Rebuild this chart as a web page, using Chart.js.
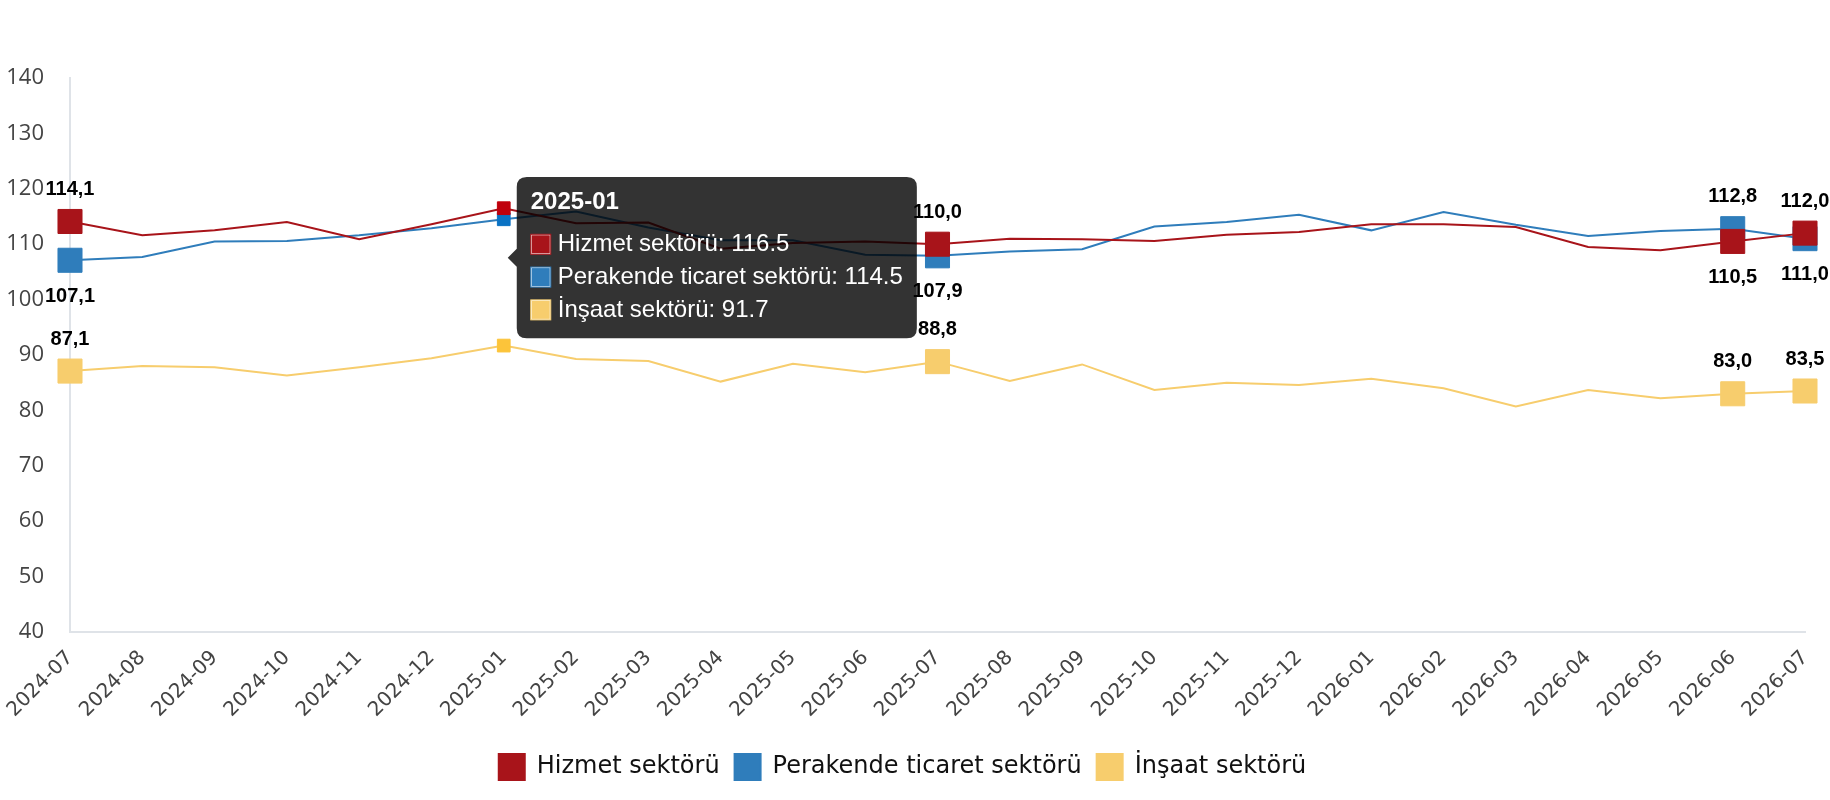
<!DOCTYPE html>
<html>
<head>
<meta charset="utf-8">
<script src="https://cdn.jsdelivr.net/npm/chart.js@4.4.1/dist/chart.umd.min.js"></script>
<style>
html,body{margin:0;padding:0;background:#fff;}
#wrap{width:1830px;height:800px;position:relative;}
</style>
</head>
<body>
<div id="wrap"><canvas id="c"></canvas></div>
<script>
const categories = ['2024-07','2024-08','2024-09','2024-10','2024-11','2024-12','2025-01','2025-02','2025-03','2025-04','2025-05','2025-06','2025-07','2025-08','2025-09','2025-10','2025-11','2025-12','2026-01','2026-02','2026-03','2026-04','2026-05','2026-06','2026-07'];
const hizmet    = [114.1,111.6,112.5,114.0,110.9,113.6,116.5,113.8,113.9,109.2,110.2,110.5,110.0,111.0,110.9,110.6,111.7,112.2,113.6,113.6,113.1,109.5,108.9,110.5,112.0];
const perakende = [107.1,107.7,110.5,110.6,111.6,112.9,114.5,115.9,113.0,110.7,110.7,108.1,107.9,108.7,109.1,113.2,114.0,115.3,112.5,115.8,113.5,111.5,112.4,112.8,111.0];
const insaat    = [87.1,88.0,87.8,86.3,87.8,89.4,91.7,89.3,88.9,85.2,88.4,86.9,88.8,85.3,88.3,83.7,85.0,84.6,85.7,84.0,80.7,83.7,82.2,83.0,83.5];
const seriesNames = ['Hizmet sektörü','Perakende ticaret sektörü','İnşaat sektörü'];
const yMin = 40, yMax = 140, yStep = 10;
const labelledIndices = [0,12,23,24];
const tooltipIndex = 6;

const colors = ['#a8141a','#2f7dbb','#f7cd6d'];
const hoverColors = ['#c0000c','#0a72c4','#fcc43a'];

const valueLabels = {
  id: 'valueLabels',
  afterDatasetsDraw(chart) {
    const ctx = chart.ctx;
    ctx.save();
    ctx.font = 'bold 20px "Liberation Sans", Arial, sans-serif';
    ctx.fillStyle = '#000';
    ctx.textAlign = 'center';
    ctx.textBaseline = 'middle';
    const ds = chart.data.datasets;
    labelledIndices.forEach(i => {
      ds.forEach((d, di) => {
        const pt = chart.getDatasetMeta(di).data[i];
        const v = d.data[i];
        let above = true;
        if (di < 2) above = v >= ds[1 - di].data[i];
        const y = above ? pt.y - 32 : pt.y + 36;
        ctx.fillText(v.toFixed(1).replace('.', ','), pt.x, y);
      });
    });
    ctx.restore();
  }
};

function makeDataset(idx, data) {
  return {
    label: seriesNames[idx],
    data: data,
    borderColor: colors[idx],
    backgroundColor: colors[idx],
    borderWidth: 2,
    tension: 0,
    clip: false,
    pointStyle: 'rect',
    pointRadius: ctx => labelledIndices.includes(ctx.dataIndex) ? 17 : 0,
    pointBorderWidth: 1,
    pointBackgroundColor: colors[idx],
    pointBorderColor: colors[idx],
    pointHoverRadius: 9,
    pointHoverBorderWidth: 1,
    pointHoverBackgroundColor: hoverColors[idx],
    pointHoverBorderColor: hoverColors[idx]
  };
}

function build() {
  const chart = new Chart(document.getElementById('c'), {
    type: 'line',
    data: {
      labels: categories,
      datasets: [makeDataset(0, hizmet), makeDataset(1, perakende), makeDataset(2, insaat)]
    },
    options: {
      responsive: true,
      maintainAspectRatio: false,
      animation: false,
      events: [],
      layout: { padding: { top: 78, left: 0, right: 25, bottom: 10 } },
      interaction: { mode: 'index', intersect: false },
      scales: {
        x: {
          grid: { display: false },
          border: { display: true, color: '#dfe3e8', width: 2 },
          ticks: {
            autoSkip: false, maxRotation: 45, minRotation: 45,
            font: { family: '"DejaVu Sans", sans-serif', size: 20 },
            color: '#444', padding: 6
          },
          afterFit: s => { s.height = 107; s.paddingLeft = 0; s.paddingRight = 0; }
        },
        y: {
          min: yMin, max: yMax,
          grid: { display: false },
          border: { display: true, color: '#dfe3e8', width: 2 },
          ticks: {
            stepSize: yStep,
            font: { family: '"Open Sans", sans-serif', size: 22 },
            color: '#444', padding: 18
          },
          afterFit: s => { s.width = 70; }
        }
      },
      plugins: {
        legend: {
          position: 'bottom',
          labels: {
            boxWidth: 26, boxHeight: 26, padding: 15,
            font: { family: '"DejaVu Sans", sans-serif', size: 24 },
            color: '#111'
          }
        },
        tooltip: {
          enabled: true,
          mode: 'index', intersect: false,
          backgroundColor: 'rgba(0,0,0,0.8)',
          titleColor: '#fff', bodyColor: '#fff',
          titleFont: { family: '"Liberation Sans", Arial, sans-serif', size: 24, weight: 'bold' },
          bodyFont: { family: '"Liberation Sans", Arial, sans-serif', size: 24 },
          padding: { top: 11, bottom: 14, left: 14, right: 14 },
          caretSize: 9, caretPadding: 4, cornerRadius: 10,
          boxWidth: 20, boxHeight: 20, boxPadding: 5,
          bodySpacing: 4, titleMarginBottom: 13,
          xAlign: 'left', yAlign: 'center',
          callbacks: {
            labelColor: c => ({ borderColor: colors[c.datasetIndex], backgroundColor: colors[c.datasetIndex], borderWidth: 1 })
          }
        }
      }
    },
    plugins: [valueLabels]
  });
  const act = [0, 1, 2].map(d => ({ datasetIndex: d, index: tooltipIndex }));
  chart.setActiveElements(act);
  const p = chart.getDatasetMeta(0).data[tooltipIndex];
  chart.tooltip.setActiveElements(act, { x: p.x, y: p.y });
  chart.update();
}

const fontLoads = [
  document.fonts.load('20px "DejaVu Sans"'),
  document.fonts.load('22px "Open Sans"'),
  document.fonts.load('24px "Liberation Sans"'),
  document.fonts.load('bold 24px "Liberation Sans"')
];
Promise.race([Promise.all(fontLoads), new Promise(r => setTimeout(r, 800))]).then(build, build);
</script>
</body>
</html>
